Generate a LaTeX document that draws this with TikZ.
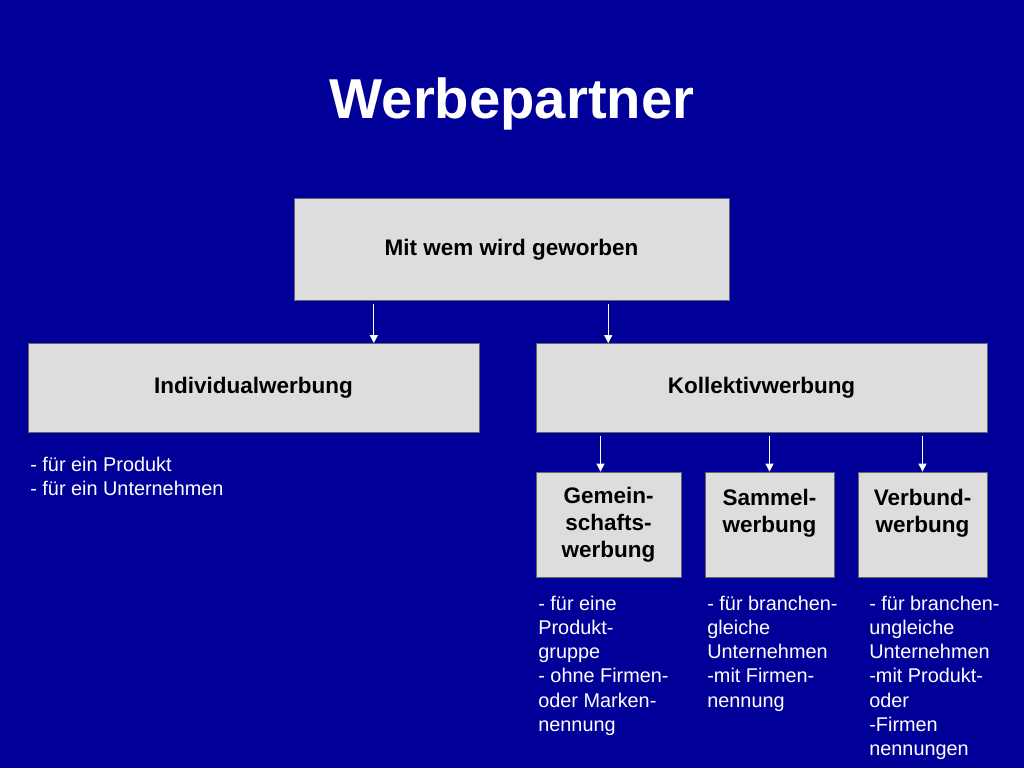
\documentclass[tikz,border=0pt]{standalone}
\usepackage{fontspec}
\setmainfont{Liberation Sans}
\usepackage{xcolor}
\usepackage{tikz}
\usetikzlibrary{arrows.meta,calc}
\definecolor{hgblau}{RGB}{0,0,153}
\definecolor{kasten}{RGB}{221,221,221}

\begin{document}
\begin{tikzpicture}[x=0.02cm,y=-0.02cm,
box/.style={draw=black!60,line width=0.5pt,fill=kasten,text=black,align=center,inner sep=0pt,
  font=\bfseries\fontsize{12.8}{15.4}\selectfont},
liste/.style={anchor=north west,inner sep=0pt,text=white,align=left,
  font=\fontsize{11.3}{13.7}\selectfont},
pfeil/.style={white,line width=0.7pt,shorten <=1.5pt,-{Triangle[width=4.5pt,length=4.5pt]}}]
\fill[hgblau](0,0)rectangle(1024,768);
\useasboundingbox(0,0)rectangle(1024,768);
% Titel
\node[anchor=base,text=white,inner sep=0pt,font=\bfseries\fontsize{32}{38}\selectfont](titel)at(512,118){Werbepartner};
% Kaesten
\node[box,minimum width=8.7cm,minimum height=2.04cm](mit)at(511.5,249.5){Mit wem wird geworben};
\node[box,minimum width=9.02cm,minimum height=1.78cm](ind)at(253.5,388){Individualwerbung};
\node[box,minimum width=9.02cm,minimum height=1.78cm](kol)at(761.5,388){Kollektivwerbung};
\node[box,minimum width=2.9cm,minimum height=2.1cm](gem)at(608.5,524.5){Gemein-\\schafts-\\werbung};
\node[box,minimum width=2.58cm,minimum height=2.1cm](sam)at(769.5,524.5){Sammel-\\werbung\\\mbox{}};
\node[box,minimum width=2.58cm,minimum height=2.1cm](ver)at(922.5,524.5){Verbund-\\werbung\\\mbox{}};
% Pfeile
\coordinate(m1)at($(mit.south west)!0.184!(mit.south east)$);
\coordinate(m2)at($(mit.south west)!0.722!(mit.south east)$);
\draw[pfeil](m1)--(m1|-ind.north);
\draw[pfeil](m2)--(m2|-kol.north);
\coordinate(g1)at([xshift=-0.16cm]gem.north);
\draw[pfeil](g1|-kol.south)--(g1);
\draw[pfeil](kol.south-|sam.north)--(sam.north);
\draw[pfeil](kol.south-|ver.north)--(ver.north);
% Texte
\node[liste](lind)at(30,457){- für ein Produkt\\- für ein Unternehmen};
\node[liste](lgem)at(538,596){- für eine\\Produkt-\\gruppe\\- ohne Firmen-\\oder Marken-\\nennung};
\node[liste](lsam)at(707,596){- für branchen-\\gleiche\\Unternehmen\\-mit Firmen-\\nennung};
\node[liste](lver)at(869,596){- für branchen-\\ungleiche\\Unternehmen\\-mit Produkt-\\oder\\-Firmen\\nennungen};
\end{tikzpicture}
\end{document}
